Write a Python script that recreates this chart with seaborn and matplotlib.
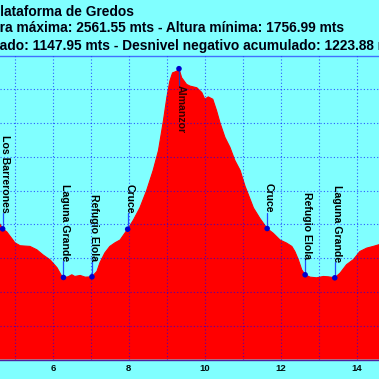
import matplotlib
matplotlib.use("Agg")
import matplotlib.pyplot as plt
import seaborn as sns
import pandas as pd

# ---------------- data ----------------
km = [4.50, 4.61, 4.68, 4.79, 4.95, 5.00, 5.14, 5.40, 5.58, 5.74, 5.93, 6.11, 6.24,
      6.28, 6.40, 6.50, 6.58, 6.72, 6.85, 7.03, 7.16, 7.24, 7.37, 7.50, 7.64, 7.77,
      7.90, 7.97, 8.12, 8.29, 8.47, 8.64, 8.78, 8.91, 9.00, 9.08, 9.15, 9.26, 9.32,
      9.39, 9.52, 9.61, 9.79, 9.92, 10.00, 10.09, 10.21, 10.31, 10.40, 10.53, 10.66,
      10.79, 10.93, 11.06, 11.14, 11.28, 11.45, 11.64, 11.80, 11.98, 12.15, 12.29,
      12.37, 12.46, 12.55, 12.64, 12.77, 12.94, 13.12, 13.25, 13.42, 13.56, 13.73,
      13.91, 14.08, 14.26, 14.43, 14.58, 14.70]
elevation = [2105, 2101, 2087, 2078, 2054, 2046, 2037, 2035, 2025, 2010, 1995, 1972, 1946,
             1943, 1945, 1951, 1946, 1949, 1944, 1945, 1961, 1987, 2016, 2035, 2046, 2054,
             2075, 2086, 2113, 2149, 2201, 2260, 2319, 2407, 2476, 2525, 2549, 2554, 2561.55,
             2535, 2515, 2510, 2505, 2491, 2471, 2478, 2471, 2437, 2401, 2358, 2329,
             2290, 2260, 2213, 2190, 2149, 2118, 2088, 2074, 2054, 2045, 2035,
             2020, 1996, 1966, 1951, 1944, 1942, 1946, 1945, 1942, 1956, 1981,
             1996, 2020, 2030, 2035, 2040, 2042]

wp_names = ["Los Barrerones", "Laguna Grande", "Refugio Elola", "Cruce", "Almanzor",
            "Cruce", "Refugio Elola", "Laguna Grande"]
wp_km = [4.68, 6.28, 7.03, 7.97, 9.32, 11.64, 12.64, 13.42]
wp_elev = [2087, 1943, 1945, 2086, 2561.55, 2088, 1951, 1942]
wp_below = [False, False, False, False, True, False, False, False]

xticks = [6, 8, 10, 12, 14]

title_lines = ["Plataforma de Gredos",
               "Altura máxima: 2561.55 mts - Altura mínima: 1756.99 mts",
               "Desnivel positivo acumulado: 1147.95 mts - Desnivel negativo acumulado: 1223.88 mts"]
title_hidden = ["P", "Altu", "Desnivel positivo acumul"]

# ---------------- style ----------------
BG = "#80FFFF"
RED = "#FF0000"
sns.set_style("white")
plt.rcParams["font.family"] = ["Liberation Sans", "DejaVu Sans"]

W = H = 379
fig = plt.figure(figsize=(W / 100, H / 100), dpi=100, facecolor=BG)
ax = fig.add_axes([0, (H - 359.5) / H, 1, (359.5 - 55.7) / H])
ax.set_facecolor(BG)

df = pd.DataFrame({"km": km, "elev": elevation})
ax.fill_between(df["km"], 1700, df["elev"], color=RED, lw=0, zorder=1)
sns.lineplot(data=df, x="km", y="elev", color=RED, lw=0.8, ax=ax, zorder=2)

ax.set_xlim(4.61, 4.61 + W / 38.0)
ax.set_ylim(1700, 2600)

# grid
for k in range(4, 16):
    ax.axvline(k, color="#0000FF", alpha=0.65, lw=0.8, ls=(0, (1, 2)), zorder=3)
for e in range(1800, 2600, 100):
    ax.axhline(e, color="#0000FF", alpha=0.65, lw=0.8, ls=(0, (1, 2)), zorder=3)

# waypoints
pp = 100 / 33.75  # metres per pixel
for name, x, y, below in zip(wp_names, wp_km, wp_elev, wp_below):
    gap = 16 * pp
    if below:
        ax.plot([x, x], [y, y - gap], color="#2040C0", lw=0.9, zorder=4)
        ax.text(x + 0.04, y - gap, name, rotation=270, ha="center", va="top",
                fontsize=7.6, fontweight="bold", color="#300000", zorder=5)
    else:
        ax.plot([x, x], [y, y + gap], color="#2050FF", lw=0.9, zorder=4)
        ax.text(x + 0.05, y + gap, name, rotation=270, ha="center", va="bottom",
                fontsize=7.6, fontweight="bold", color="#000000", zorder=5)
sns.scatterplot(x=wp_km, y=wp_elev, color="#0000CC", s=16, edgecolor="none",
                ax=ax, zorder=6)

ax.set_xticks(xticks)
ax.set_xticklabels([str(t) for t in xticks], fontsize=6.8, fontweight="bold",
                   color="#001010")
ax.tick_params(axis="x", length=0, pad=3)
ax.set_yticks([])
ax.set_xlabel("")
ax.set_ylabel("")
for s in ["left", "right"]:
    ax.spines[s].set_visible(False)
ax.spines["top"].set_color("#4070FF")
ax.spines["top"].set_linewidth(1.0)
ax.spines["bottom"].set_color("#5020A0")
ax.spines["bottom"].set_linewidth(1.0)

# titles (cropped on the left as in the reference)
renderer = fig.canvas.get_renderer()
baselines = [15.5, 32.5, 50.0]
starts = [0.5, 0.0, 0.0]
for line, hid, base, st in zip(title_lines, title_hidden, baselines, starts):
    kw = dict(fontsize=9.9, fontweight="bold", color="#000010")
    t = fig.text(0, 0, hid, **kw)
    w = t.get_window_extent(renderer).width
    t.remove()
    fig.text((st - w) / W, 1 - base / H, line, va="baseline", ha="left", **kw)

fig.savefig("out.png", dpi=100, facecolor=BG)
